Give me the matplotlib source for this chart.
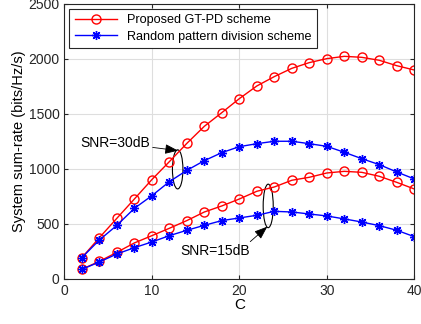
import numpy as np
import matplotlib
matplotlib.use("Agg")
import matplotlib.pyplot as plt
from matplotlib.patches import Ellipse

plt.rcParams['font.family'] = ['Liberation Sans', 'DejaVu Sans']

C = [2, 4, 6, 8, 10, 12, 14, 16, 18, 20, 22, 24, 26, 28, 30, 32, 34, 36, 38, 40]

gtpd_30 = [194, 375, 551, 726, 902, 1065, 1231, 1386, 1510, 1637,
           1752, 1837, 1912, 1964, 2000, 2021, 2012, 1985, 1936, 1897]
rand_30 = [194, 354, 487, 641, 756, 883, 986, 1074, 1147, 1201,
           1228, 1250, 1250, 1228, 1204, 1150, 1092, 1038, 971, 908]
gtpd_15 = [88, 160, 242, 327, 393, 460, 530, 608, 663, 726,
           796, 835, 896, 923, 962, 977, 968, 932, 877, 817]
rand_15 = [88, 154, 227, 284, 336, 393, 442, 487, 530, 554,
           578, 614, 608, 590, 572, 545, 517, 484, 442, 384]

fig = plt.figure(figsize=(4.21, 3.24), dpi=100)
ax = fig.add_axes([0.153, 0.139, 0.831, 0.85])

star = (8, 2, 0)
ax.plot(C, gtpd_30, '-o', color='red', mfc='none', ms=6.5, lw=1, mew=1,
        label='Proposed GT-PD scheme')
ax.plot(C, rand_30, '-', marker=star, color='blue', ms=6.5, lw=1, mew=1,
        label='Random pattern division scheme')
ax.plot(C, gtpd_15, '-o', color='red', mfc='none', ms=6.5, lw=1, mew=1)
ax.plot(C, rand_15, '-', marker=star, color='blue', ms=6.5, lw=1, mew=1)

# annotations
ax.add_patch(Ellipse((12.95, 995), 1.2, 355, fill=False, ec='black', lw=0.8))
ax.add_patch(Ellipse((23.3, 663), 1.15, 395, fill=False, ec='black', lw=0.8))
ax.annotate('SNR=30dB', xy=(13.0, 1165), xytext=(1.8, 1237),
            fontsize=10, va='center', ha='left',
            arrowprops=dict(arrowstyle='-|>,head_length=0.8,head_width=0.3',
                            color='black', lw=0.6, shrinkA=0, shrinkB=0))
ax.annotate('', xy=(23.2, 475), xytext=(21.25, 339),
            arrowprops=dict(arrowstyle='-|>,head_length=0.8,head_width=0.3',
                            color='black', lw=0.6, shrinkA=0, shrinkB=0))
ax.text(13.3, 257, 'SNR=15dB', fontsize=10, va='center', ha='left')

ax.set_xlim(0, 40)
ax.set_ylim(0, 2500)
ax.set_xticks([0, 10, 20, 30, 40])
ax.set_yticks(np.arange(0, 2501, 500))
ax.set_xlabel('C', fontsize=11, labelpad=0)
ax.set_ylabel('System sum-rate (bits/Hz/s)', fontsize=10.5, labelpad=2)
ax.grid(True, color='#dedede', lw=0.8)
ax.set_axisbelow(True)
ax.tick_params(direction='in', top=True, right=True, labelsize=10,
               colors='#262626', length=3)
for s in ax.spines.values():
    s.set_color('#262626')
    s.set_linewidth(0.8)

leg = ax.legend(loc='upper left', fontsize=9.1, frameon=True, fancybox=False,
                edgecolor='#262626', framealpha=1, borderaxespad=0.4,
                handlelength=3.3, borderpad=0.45, labelspacing=0.35)
leg.get_frame().set_linewidth(0.8)

fig.savefig('out.png', dpi=100)
